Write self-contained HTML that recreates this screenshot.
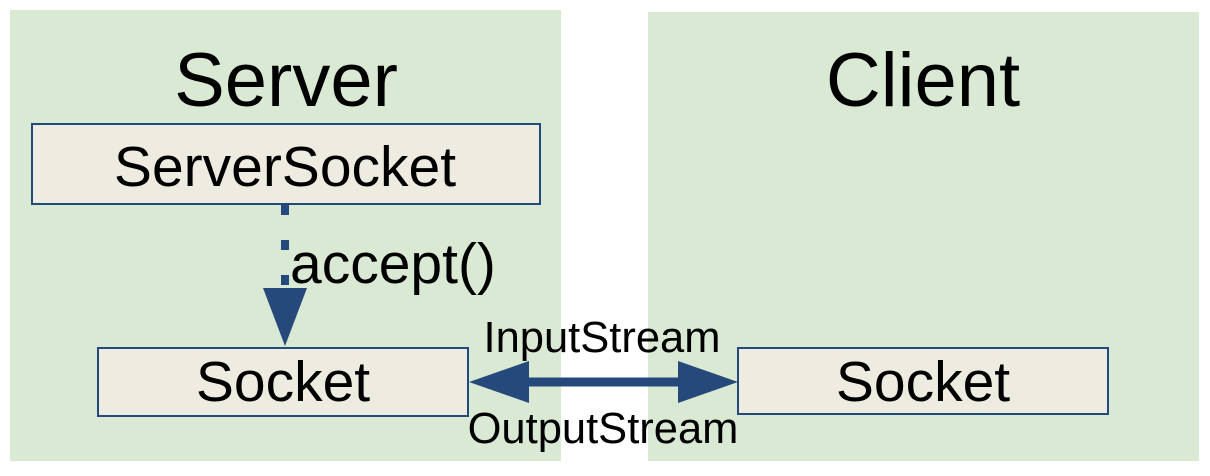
<!DOCTYPE html>
<html><head><style>
html,body{margin:0;padding:0;background:#fff;}
svg{display:block;}
text{font-family:"Liberation Sans",Arial,sans-serif;fill:#000;}
</style></head><body>
<svg width="1210" height="476" viewBox="0 0 1210 476" xmlns="http://www.w3.org/2000/svg">
<rect x="10" y="10" width="551" height="451" fill="#d9e9d4"/>
<rect x="648" y="12" width="551" height="449" fill="#d9e9d4"/>
<text x="286" y="106" font-size="76" text-anchor="middle">Server</text>
<text x="923" y="106" font-size="76" text-anchor="middle">Client</text>
<rect x="32" y="124" width="508" height="80" fill="#eeebe1" stroke="#24497a" stroke-width="2"/>
<text x="285" y="186" font-size="57" text-anchor="middle">ServerSocket</text>
<line x1="285" y1="205" x2="285" y2="290" stroke="#24497a" stroke-width="8" stroke-dasharray="10,25"/>
<polygon points="263,288 307,288 285,346" fill="#24497a"/>
<text x="290" y="283" font-size="57">accept()</text>
<rect x="98" y="348" width="370" height="68" fill="#eeebe1" stroke="#24497a" stroke-width="2"/>
<text x="283" y="401" font-size="57" text-anchor="middle">Socket</text>
<rect x="738" y="348" width="370" height="66" fill="#eeebe1" stroke="#24497a" stroke-width="2"/>
<text x="923" y="401" font-size="57" text-anchor="middle">Socket</text>
<line x1="500" y1="382" x2="710" y2="382" stroke="#24497a" stroke-width="9"/>
<polygon points="469,382 529,361 529,403" fill="#24497a"/>
<polygon points="738,382 678,361 678,403" fill="#24497a"/>
<text x="602" y="352" font-size="43.5" text-anchor="middle">InputStream</text>
<text x="603" y="443" font-size="43.5" text-anchor="middle">OutputStream</text>
</svg>
</body></html>
